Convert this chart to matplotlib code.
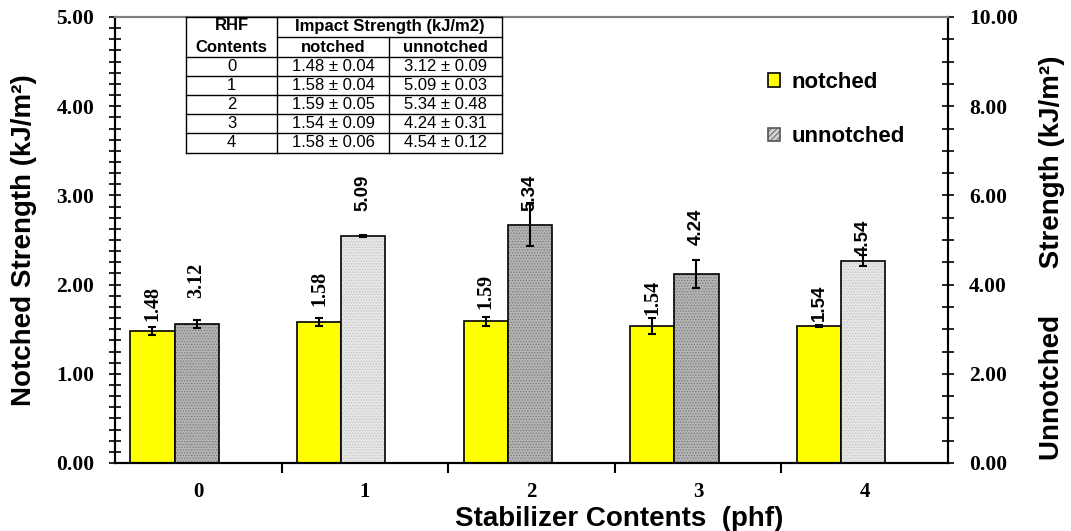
import matplotlib
matplotlib.use("Agg")
import matplotlib.pyplot as plt
import numpy as np
from matplotlib.patches import Patch
from matplotlib.lines import Line2D

# ---------------- data ----------------
categories = ["0", "1", "2", "3", "4"]
notched = [1.48, 1.58, 1.59, 1.54, 1.54]
notched_err = [0.04, 0.04, 0.05, 0.09, 0.01]
unnotched = [3.12, 5.09, 5.34, 4.24, 4.54]
unnotched_err = [0.09, 0.03, 0.48, 0.31, 0.12]
value_labels_notched = ["1.48", "1.58", "1.59", "1.54", "1.54"]
value_labels_unnotched = ["3.12", "5.09", "5.34", "4.24", "4.54"]

# table contents
table_contents = ["0", "1", "2", "3", "4"]
table_notched = [1.48, 1.58, 1.59, 1.54, 1.58]
table_notched_sd = [0.04, 0.04, 0.05, 0.09, 0.06]
table_unnotched = [3.12, 5.09, 5.34, 4.24, 4.54]
table_unnotched_sd = [0.09, 0.03, 0.48, 0.31, 0.12]

# label placement (axis units) -- positions, not data
label_pos_notched = [1.79, 1.96, 1.92, 1.86, 1.80]
label_pos_unnotched = [4.10, 6.05, 6.05, 5.29, 5.04]
label_font_notched = ["serif", "serif", "serif", "serif", "sans"]
label_font_unnotched = ["serif", "sans", "sans", "sans", "sans"]

W, H = 1071, 531
fig = plt.figure(figsize=(W / 100, H / 100), dpi=100)
L, R, T, B = 115, 948, 17, 463
ax = fig.add_axes([L / W, 1 - B / H, (R - L) / W, (B - T) / H])
ax2 = ax.twinx()

serif = "Liberation Serif"
sans = "Liberation Sans"
fam = {"serif": serif, "sans": sans}

x = np.arange(len(categories))
bw = 0.265
xn = x - 0.275
xu = x - 0.01

# notched bars on left axis
ax.bar(xn, notched, width=bw, color="#FFFF00", edgecolor="black", linewidth=1.2, zorder=2)
ax.errorbar(xn, notched, yerr=notched_err, fmt="none", ecolor="black", elinewidth=1.5,
            capsize=3, capthick=1.5, zorder=3)

# unnotched bars on right axis
face = ["#b4b4b4", "#e6e6e6", "#b4b4b4", "#b4b4b4", "#e6e6e6"]
hatchc = ["#7a7a7a", "#c4c4c4", "#7a7a7a", "#7a7a7a", "#c4c4c4"]
plt.rcParams["hatch.linewidth"] = 0.6
for i in range(len(categories)):
    ax2.bar(xu[i], unnotched[i], width=bw, color=face[i], edgecolor=hatchc[i],
            hatch="......", linewidth=0, zorder=2)
ax2.bar(xu, unnotched, width=bw, facecolor="none", edgecolor="black", linewidth=1.2, zorder=2)
ax2.errorbar(xu, unnotched, yerr=unnotched_err, fmt="none", ecolor="black", elinewidth=1.5,
             capsize=3, capthick=1.5, zorder=3)

# value labels
for i in range(len(categories)):
    ax.text(xn[i], label_pos_notched[i], value_labels_notched[i], rotation=90,
            ha="center", va="center", fontsize=14.5 if label_font_notched[i] == "serif" else 13.5,
            fontweight="bold", family=fam[label_font_notched[i]], zorder=4)
    ax2.text(xu[i], label_pos_unnotched[i], value_labels_unnotched[i], rotation=90,
             ha="center", va="center", fontsize=14.5 if label_font_unnotched[i] == "serif" else 13.5,
             fontweight="bold", family=fam[label_font_unnotched[i]], zorder=4)

# axes limits and ticks
ax.set_xlim(-0.5, len(categories) - 0.5)
ax.set_ylim(0, 5)
ax2.set_ylim(0, 10)

ax.set_xticks(np.arange(0.5, len(categories) - 0.5, 1.0))
ax.set_xticklabels([])
ax.set_xticks(x, minor=True)
ax.set_xticklabels(categories, minor=True, fontsize=15, fontweight="bold", family=serif)
ax.tick_params(axis="x", which="major", direction="out", length=7, width=1.5)
ax.tick_params(axis="x", which="minor", length=0, pad=14)

ax.set_yticks(np.arange(0, 5.01, 1.0))
ax.set_yticklabels([f"{v:.2f}" for v in np.arange(0, 5.01, 1.0)], fontsize=15.5,
                   fontweight="bold", family=serif)
ax.set_yticks(np.arange(0, 5.01, 0.125), minor=True)
ax.tick_params(axis="y", which="both", direction="inout", length=8, width=1.2, pad=11)

ax2.set_yticks(np.arange(0, 10.01, 2.0))
ax2.set_yticklabels([f"{v:.2f}" for v in np.arange(0, 10.01, 2.0)], fontsize=15.5,
                    fontweight="bold", family=serif)
ax2.set_yticks(np.arange(0, 10.01, 0.5), minor=True)
ax2.tick_params(axis="y", which="both", direction="inout", length=8, width=1.2, pad=11)

for a in (ax, ax2):
    for s in ("left", "right", "bottom"):
        a.spines[s].set_linewidth(1.5)
        a.spines[s].set_color("black")
    a.spines["top"].set_color("#808080")
    a.spines["top"].set_linewidth(1.5)

# axis titles
fig.text(24 / W, 1 - 240 / H, "Notched Strength (kJ/m²)", rotation=90, ha="center",
         va="center", fontsize=20, fontweight="bold", family=sans)
fig.text(1052 / W, 1 - 258 / H, "Unnotched      Strength (kJ/m²)", rotation=90,
         ha="center", va="center", fontsize=20, fontweight="bold", family=sans)
fig.text(619 / W, 1 - 519 / H, "Stabilizer Contents  (phf)", ha="center", va="center",
         fontsize=20, fontweight="bold", family=sans)

# legend
handles = [Patch(facecolor="#FFFF00", edgecolor="black", linewidth=1.2),
           Patch(facecolor="#d0d0d0", edgecolor="#555555", hatch="//////", linewidth=1.2)]
leg = fig.legend(handles, ["notched", "unnotched"], loc="upper left",
                 bbox_to_anchor=(748 / W, 1 - 52 / H), frameon=False,
                 prop={"family": sans, "weight": "bold", "size": 16},
                 handlelength=0.55, handleheight=0.55, handletextpad=0.5, labelspacing=1.5)

# table (pixel layout)
def px(xp, yp):
    return xp / W, 1 - yp / H

cols = [186, 277, 389, 502]
rows = [17, 57, 76, 95, 114, 133, 153]
lw = 1.0
def hline(x0, x1, y):
    fig.add_artist(Line2D([x0 / W, x1 / W], [1 - y / H, 1 - y / H], color="black", lw=lw,
                          zorder=6))
def vline(xp, y0, y1):
    fig.add_artist(Line2D([xp / W, xp / W], [1 - y0 / H, 1 - y1 / H], color="black", lw=lw,
                          zorder=6))

fig.add_artist(plt.Rectangle(px(cols[0], rows[-1]), (cols[-1] - cols[0]) / W,
                             (rows[-1] - rows[0]) / H, facecolor="white", edgecolor="none",
                             zorder=5, transform=fig.transFigure))
for yv in rows:
    hline(cols[0], cols[-1], yv)
hline(cols[1], cols[-1], 37)
for xv in (cols[0], cols[1], cols[3]):
    vline(xv, rows[0], rows[-1])
vline(cols[2], 37, rows[-1])

tf = dict(family=sans, fontsize=12, ha="center", va="center", zorder=7)
tfb = dict(tf, fontweight="bold")
cx = [(cols[0] + cols[1]) / 2, (cols[1] + cols[2]) / 2, (cols[2] + cols[3]) / 2]
fig.text(*px(cx[0], 26), "RHF", **tfb)
fig.text(*px(cx[0], 47), "Contents", **tfb)
fig.text(*px((cols[1] + cols[3]) / 2, 27), "Impact Strength (kJ/m2)", **tfb)
fig.text(*px(cx[1], 47), "notched", **tfb)
fig.text(*px(cx[2], 47), "unnotched", **tfb)
for i in range(len(table_contents)):
    yc = (rows[i + 1] + rows[i + 2]) / 2
    fig.text(*px(cx[0], yc), table_contents[i], **tf)
    fig.text(*px(cx[1], yc), f"{table_notched[i]:.2f} ± {table_notched_sd[i]:.2f}", **tf)
    fig.text(*px(cx[2], yc), f"{table_unnotched[i]:.2f} ± {table_unnotched_sd[i]:.2f}", **tf)

fig.savefig("out.png", dpi=100)
